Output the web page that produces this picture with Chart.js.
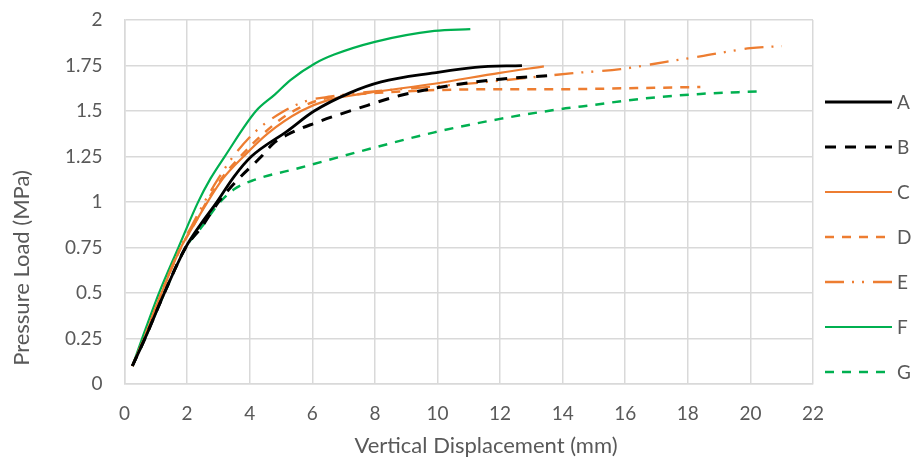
<!DOCTYPE html>
<html>
<head>
<meta charset="utf-8">
<script src="https://cdn.jsdelivr.net/npm/chart.js@4"></script>
<style>
  html, body { margin: 0; padding: 0; background: #fff; }
  #wrap { width: 911px; height: 463px; }
</style>
</head>
<body>
<div id="wrap"><canvas id="chart"></canvas></div>
<script>
// series values (displacement in mm, load in MPa)
const seriesNames = ["A", "B", "C", "D", "E", "F", "G"];

const aX = [0.25, 0.65, 1.27, 1.95, 2.4, 2.95, 3.5, 4.05, 5.2, 6.06, 7.2, 8.2, 9.9, 11.2, 12.7];
const aY = [0.1, 0.25, 0.5, 0.75, 0.87, 1.0, 1.14, 1.25, 1.39, 1.5, 1.6, 1.66, 1.71, 1.74, 1.75];

const bX = [0.25, 0.65, 1.27, 1.95, 2.45, 3.0, 3.6, 4.37, 4.74, 5.2, 6.02, 7.56, 8.8, 10.4, 12.0, 13.55];
const bY = [0.1, 0.25, 0.5, 0.75, 0.86, 1.0, 1.12, 1.25, 1.32, 1.37, 1.43, 1.52, 1.585, 1.64, 1.675, 1.695];

const cX = [0.25, 0.62, 1.18, 1.8, 2.2, 2.65, 3.15, 3.8, 4.6, 5.64, 6.5, 7.8, 9.9, 12.0, 13.4];
const cY = [0.1, 0.25, 0.5, 0.75, 0.87, 1.0, 1.13, 1.25, 1.38, 1.5, 1.56, 1.6, 1.65, 1.71, 1.745];

const dX = [0.25, 0.62, 1.18, 1.8, 2.2, 2.62, 3.1, 3.7, 4.4, 5.2, 6.2, 7.0, 8.1, 9.9, 12.0, 14.0, 16.0, 18.4];
const dY = [0.1, 0.25, 0.5, 0.75, 0.87, 1.0, 1.13, 1.25, 1.37, 1.48, 1.56, 1.585, 1.6, 1.615, 1.62, 1.62, 1.625, 1.632];

const eX = [0.25, 0.62, 1.17, 1.78, 2.15, 2.55, 3.0, 3.47, 4.2, 5.1, 5.8, 6.6, 7.8, 9.9, 11.6, 13.3, 14.25, 15.85, 17.3, 18.4, 20.0, 21.0];
const eY = [0.1, 0.25, 0.5, 0.75, 0.87, 1.0, 1.13, 1.25, 1.39, 1.5, 1.555, 1.58, 1.605, 1.635, 1.66, 1.69, 1.707, 1.73, 1.77, 1.8, 1.845, 1.857];

const fX = [0.25, 0.56, 1.1, 1.72, 2.35, 2.75, 3.2, 4.2, 4.8, 5.3, 6.07, 6.7, 8.0, 9.9, 11.05];
const fY = [0.1, 0.25, 0.5, 0.75, 1.0, 1.13, 1.25, 1.5, 1.59, 1.67, 1.76, 1.81, 1.88, 1.94, 1.95];

const gX = [0.25, 0.65, 1.27, 1.95, 2.45, 3.0, 3.5, 4.05, 5.64, 7.56, 9.9, 12.0, 13.9, 14.6, 16.5, 18.4, 20.2];
const gY = [0.1, 0.25, 0.5, 0.75, 0.86, 0.99, 1.07, 1.116, 1.19, 1.28, 1.383, 1.457, 1.51, 1.525, 1.567, 1.594, 1.608];

const xTicks = [0, 2, 4, 6, 8, 10, 12, 14, 16, 18, 20, 22];
const yTicks = [0, 0.25, 0.5, 0.75, 1, 1.25, 1.5, 1.75, 2];

const xTitle = "Vertical Displacement (mm)";
const yTitle = "Pressure Load (MPa)";

const xsList = [aX, bX, cX, dX, eX, fX, gX];
const ysList = [aY, bY, cY, dY, eY, fY, gY];

const black = "#000000";
const orange = "#ED7D31";
const green = "#00B050";
const styles = [
  { color: black, dash: [], width: 2.8 },
  { color: black, dash: [11, 9], width: 3 },
  { color: orange, dash: [], width: 2.2 },
  { color: orange, dash: [9, 8], width: 2.5 },
  { color: orange, dash: [19, 8, 2, 8, 2, 9], width: 2.3 },
  { color: green, dash: [], width: 2.2 },
  { color: green, dash: [9, 8], width: 2.5 }
];

const datasets = seriesNames.map((name, i) => ({
  label: name,
  data: xsList[i].map((x, j) => ({ x: x, y: ysList[i][j] })),
  borderColor: styles[i].color,
  borderDash: styles[i].dash,
  borderWidth: styles[i].width,
  pointRadius: 0,
  fill: false,
  cubicInterpolationMode: "monotone"
}));

const fontFamily = "Lato, 'Open Sans', sans-serif";
const textColor = "#595959";

// axis titles and the legend on the right
const extras = {
  id: "extras",
  afterDraw(chart) {
    const ctx = chart.ctx;
    ctx.save();
    ctx.fillStyle = textColor;
    ctx.textAlign = "center";
    ctx.textBaseline = "middle";
    ctx.font = "22px " + fontFamily;
    ctx.fillText(xTitle, 486, 446);
    ctx.save();
    ctx.translate(22, 268);
    ctx.rotate(-Math.PI / 2);
    ctx.fillText(yTitle, 0, 0);
    ctx.restore();

    const x0 = 825, x1 = 892, top = 102, gap = 45;
    seriesNames.forEach((name, i) => {
      const y = top + i * gap;
      ctx.beginPath();
      ctx.setLineDash(styles[i].dash);
      ctx.strokeStyle = styles[i].color;
      ctx.lineWidth = styles[i].width;
      ctx.moveTo(x0, y);
      ctx.lineTo(x1, y);
      ctx.stroke();
      ctx.setLineDash([]);
      ctx.font = "19px " + fontFamily;
      ctx.textAlign = "left";
      ctx.fillText(name, 897, y + 1);
    });
    ctx.restore();
  }
};

new Chart(document.getElementById("chart"), {
  type: "scatter",
  data: { datasets: datasets },
  plugins: [extras],
  options: {
    responsive: true,
    maintainAspectRatio: false,
    animation: false,
    showLine: true,
    layout: { padding: { top: 20, right: 98, bottom: 20, left: 43 } },
    plugins: {
      legend: { display: false },
      tooltip: { enabled: false }
    },
    scales: {
      x: {
        type: "linear",
        min: 0,
        max: 22,
        afterBuildTicks: axis => { axis.ticks = xTicks.map(v => ({ value: v })); },
        ticks: {
          color: textColor,
          font: { family: fontFamily, size: 19 },
          padding: 18,
          maxRotation: 0,
          callback: v => String(v)
        },
        grid: { color: "#d9d9d9", lineWidth: 1.5, drawTicks: false },
        border: { color: "#d9d9d9", width: 1.5 }
      },
      y: {
        type: "linear",
        min: 0,
        max: 2,
        afterBuildTicks: axis => { axis.ticks = yTicks.map(v => ({ value: v })); },
        afterFit: axis => { axis.paddingTop = 0; axis.paddingBottom = 0; },
        ticks: {
          color: textColor,
          font: { family: fontFamily, size: 19 },
          padding: 22,
          callback: v => String(v)
        },
        grid: { color: "#d9d9d9", lineWidth: 1.5, drawTicks: false },
        border: { color: "#d9d9d9", width: 1.5 }
      }
    }
  }
});
</script>
</body>
</html>
